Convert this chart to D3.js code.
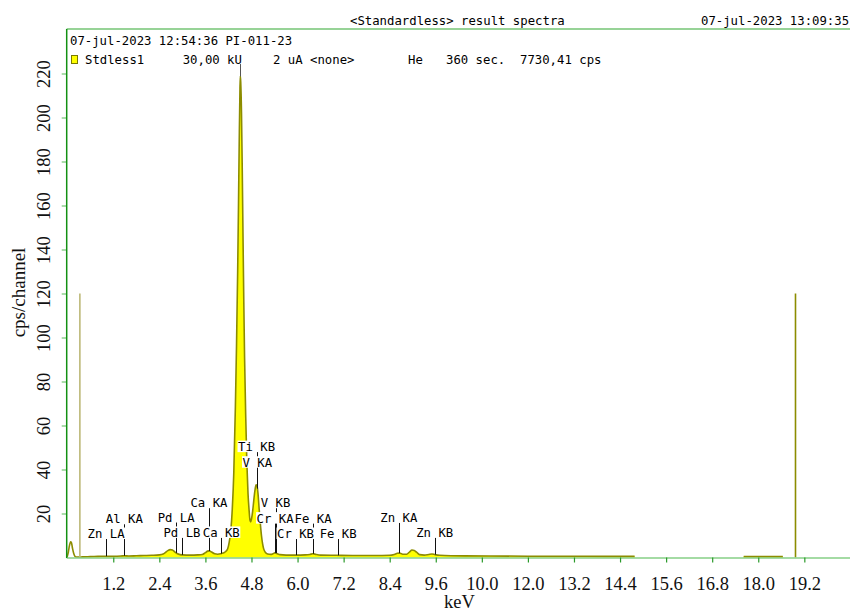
<!DOCTYPE html>
<html>
<head>
<meta charset="utf-8">
<title>Standardless result spectra</title>
<script src="https://cdn.jsdelivr.net/npm/d3@7"></script>
<style>
  html, body { margin: 0; padding: 0; background: #fff; }
  svg { display: block; }
  .mono { font-family: "DejaVu Sans Mono", monospace; font-size: 12.3px; fill: #000; }
  .serif { font-family: "Liberation Serif", "Times New Roman", serif; fill: #111; }
</style>
</head>
<body>
<svg id="chart" width="850" height="613"></svg>
<script>
// ---- spectrum (energy in keV, intensity in cps/channel) ----
const energies = [
  0.00, 0.03, 0.06, 0.09, 0.11, 0.14, 0.17, 0.20, 0.24, 0.30,
  0.40, 0.60, 0.80, 1.00, 1.20, 1.40, 1.49, 1.60, 1.80, 2.00,
  2.20, 2.40, 2.50, 2.56, 2.62, 2.68, 2.74, 2.80, 2.86, 2.94,
  3.00, 3.20, 3.40, 3.52, 3.60, 3.66, 3.70, 3.76, 3.84, 3.92,
  4.00, 4.06, 4.12, 4.18, 4.22, 4.26, 4.30, 4.34, 4.38, 4.41,
  4.44, 4.46, 4.48, 4.50, 4.51, 4.52, 4.54, 4.56, 4.58, 4.60,
  4.62, 4.65, 4.68, 4.71, 4.74, 4.76, 4.78, 4.80, 4.83, 4.86,
  4.89, 4.92, 4.94, 4.97, 5.00, 5.03, 5.06, 5.09, 5.12, 5.16,
  5.22, 5.30, 5.36, 5.41, 5.46, 5.54, 5.70, 5.95, 6.20, 6.32,
  6.40, 6.48, 6.60, 7.00, 7.50, 8.00, 8.40, 8.52, 8.60, 8.66,
  8.74, 8.84, 8.92, 8.98, 9.04, 9.10, 9.18, 9.30, 9.42, 9.50,
  9.58, 9.70, 10.00, 11.00, 12.00, 13.00, 14.00, 14.78, 14.80, 17.60,
  17.62, 18.64, 18.66, 20.40
];
const counts = [
  0.3, 2.5, 5.5, 7.1, 6.8, 4.0, 1.8, 0.6, 0.2, 0.2,
  0.3, 0.4, 0.5, 0.6, 0.6, 0.7, 0.8, 0.7, 0.8, 0.9,
  1.0, 1.2, 1.6, 2.3, 3.1, 3.6, 3.4, 2.6, 1.8, 1.3,
  1.2, 1.1, 1.2, 1.4, 2.2, 2.9, 3.0, 2.5, 1.7, 1.5,
  1.7, 2.0, 2.6, 4.0, 7.0, 12, 22, 39, 68, 96,
  130, 158, 188, 213, 219, 216, 202, 176, 145, 116,
  91, 64, 43, 29, 21, 17, 16.2, 17.5, 21, 26,
  30.5, 33, 32.8, 29, 22, 15.5, 10, 6.2, 3.8, 2.4,
  1.6, 1.4, 1.7, 2.1, 1.8, 1.3, 1.1, 1.1, 1.2, 1.4,
  1.7, 1.4, 1.1, 1.0, 0.9, 0.9, 1.0, 1.4, 1.9, 2.0,
  1.5, 1.5, 2.6, 3.4, 3.2, 2.4, 1.3, 1.1, 1.4, 1.6,
  1.3, 1.0, 0.8, 0.7, 0.6, 0.6, 0.5, 0.5, 0.0, 0.0,
  0.4, 0.4, 0.0, 0.0
];

// ---- region markers (keV, cps) ----
const markerEnergies = [0.33, 18.97];
const markerCounts = [120, 120];

// ---- identified lines: name, energy (keV), label height (cps) ----
const lineNames = ["Zn LA", "Al KA", "Pd LA", "Pd LB", "Ca KA", "Ca KB", "Ti KA", "Ti KB",
                   "V KA", "V KB", "Cr KA", "Cr KB", "Fe KA", "Fe KB", "Zn KA", "Zn KB"];
const lineEnergies = [1.012, 1.487, 2.838, 2.990, 3.692, 4.013, 4.511, 4.932,
                      4.952, 5.427, 5.415, 5.947, 6.404, 7.058, 8.639, 9.572];
const labelLevels = [10.9, 17.6, 18.4, 11.4, 24.9, 11.4, 224.3, 50.4,
                     43.3, 24.9, 17.9, 10.9, 17.9, 10.9, 18.2, 11.4];
const unlabeledLines = ["Ti KA"];

// ---- axes ----
const xTickValues = [1.2, 2.4, 3.6, 4.8, 6.0, 7.2, 8.4, 9.6, 10.8, 12.0, 13.2, 14.4, 15.6, 16.8, 18.0, 19.2];
const xTickLabels = ["1.2", "2.4", "3.6", "4.8", "6.0", "7.2", "8.4", "9.6", "10.0", "12.0", "13.2", "14.4", "15.6", "16.8", "18.0", "19.2"];
const yTickValues = [20, 40, 60, 80, 100, 120, 140, 160, 180, 200, 220];

// ---- header texts ----
const titleText = "<Standardless> result spectra";
const stampText = "07-jul-2023 13:09:35";
const sampleText = "07-jul-2023 12:54:36 PI-011-23";
const legendParts = ["Stdless1", "30,00 kU", "2 uA <none>", "He", "360 sec.", "7730,41 cps"];

// ================= drawing =================
const svg = d3.select("#chart");
const plotLeft = 66.7, plotTop = 29, plotBottom = 557.5, plotRight = 850;

const x = d3.scaleLinear().domain([0, 20.4]).range([67.2, 850.4]);
const y = d3.scaleLinear().domain([0, 240.5]).range([plotBottom, 28.4]);

const spectrum = energies.map((e, i) => ({ e, c: counts[i] }));

svg.append("defs").append("clipPath").attr("id", "plotClip")
  .append("rect").attr("x", plotLeft).attr("y", plotTop)
  .attr("width", plotRight - plotLeft).attr("height", plotBottom - plotTop + 1);

const plot = svg.append("g").attr("clip-path", "url(#plotClip)");

// yellow filled spectrum
const area = d3.area().curve(d3.curveMonotoneX)
  .x(d => x(d.e)).y0(y(0)).y1(d => y(d.c));
plot.append("path")
  .datum(spectrum.filter(d => d.e >= 0.3))
  .attr("d", area)
  .attr("fill", "#ffff00");

// bottom axis
const xAxis = d3.axisBottom(x)
  .tickValues(xTickValues)
  .tickSize(5)
  .tickFormat((d, i) => xTickLabels[i]);
const gx = svg.append("g").attr("transform", `translate(0,${plotBottom})`).call(xAxis);
gx.select(".domain").attr("d", `M${plotLeft},0.5H${plotRight}`).attr("stroke", "#86cf86").attr("stroke-width", 1.5);
gx.selectAll(".tick line").attr("stroke", "#2a9a2a").attr("stroke-width", 1.2);
gx.selectAll(".tick text")
  .attr("class", "serif")
  .attr("y", 32.5).attr("dy", null)
  .style("font-size", "18.5px");

// left axis
const yAxis = d3.axisLeft(y).tickValues(yTickValues).tickSize(5).tickFormat(d3.format("d"));
const gy = svg.append("g").attr("transform", `translate(${plotLeft},0)`).call(yAxis);
gy.select(".domain").remove();
gy.selectAll(".tick line").attr("stroke", "#74c474").attr("stroke-width", 1.2);
gy.selectAll(".tick text")
  .attr("class", "serif")
  .attr("x", null).attr("dy", null)
  .attr("text-anchor", "middle")
  .attr("transform", "translate(-16.5,0) rotate(-90)")
  .style("font-size", "18.5px");

// spectrum outline
const line = d3.line().curve(d3.curveMonotoneX)
  .defined(d => d.c > 0)
  .x(d => x(d.e)).y(d => y(d.c));
plot.append("path")
  .datum(spectrum)
  .attr("d", line)
  .attr("fill", "none")
  .attr("stroke", "#8c8c00")
  .attr("stroke-width", 1.6)
  .attr("stroke-linejoin", "round");

// region markers
const markerColors = ["#bdb978", "#8c8c00"];
markerEnergies.forEach((e, i) => {
  plot.append("line")
    .attr("x1", x(e)).attr("x2", x(e))
    .attr("y1", y(0)).attr("y2", y(markerCounts[i]))
    .attr("stroke", markerColors[i]).attr("stroke-width", 1.6);
});

// spectrum value at a given energy (linear between samples)
const bis = d3.bisector(d => d).left;
function countAt(e) {
  const i = bis(energies, e);
  if (i <= 0) return counts[0];
  if (i >= energies.length) return counts[counts.length - 1];
  const e0 = energies[i - 1], e1 = energies[i];
  const t = (e - e0) / (e1 - e0);
  return counts[i - 1] + t * (counts[i] - counts[i - 1]);
}

// element line markers
const lineData = lineNames.map((n, i) => ({
  name: n, e: lineEnergies[i], level: labelLevels[i], labeled: !unlabeledLines.includes(n)
}));
const marks = svg.append("g");
marks.selectAll("line").data(lineData).join("line")
  .attr("x1", d => Math.round(x(d.e)) + 0.5).attr("x2", d => Math.round(x(d.e)) + 0.5)
  .attr("y1", d => y(countAt(d.e)))
  .attr("y2", d => d.labeled ? y(d.level) + 3 : y(d.level))
  .attr("stroke", d => d.labeled ? "#111" : "#555")
  .attr("stroke-width", 1);

const charW = 7.41;
const labeled = lineData.filter(d => d.labeled);
marks.selectAll("rect.lab").data(labeled).join("rect")
  .attr("class", "lab")
  .attr("x", d => x(d.e) - d.name.length * charW / 2 - 0.5)
  .attr("y", d => y(d.level) - 6)
  .attr("width", d => d.name.length * charW + 1)
  .attr("height", 11.5)
  .attr("fill", "#fff");
marks.selectAll("text").data(labeled).join("text")
  .attr("class", "mono")
  .attr("x", d => x(d.e))
  .attr("y", d => y(d.level) + 4.5)
  .attr("text-anchor", "middle")
  .attr("xml:space", "preserve")
  .text(d => d.name);

// frame
svg.append("line").attr("x1", plotLeft).attr("x2", plotRight).attr("y1", plotTop).attr("y2", plotTop)
  .attr("stroke", "#74c474").attr("stroke-width", 1.5);
svg.append("line").attr("x1", plotLeft).attr("x2", plotLeft).attr("y1", plotTop).attr("y2", plotBottom + 0.5)
  .attr("stroke", "#139013").attr("stroke-width", 1.5);

// header
svg.append("text").attr("class", "mono").attr("x", 350).attr("y", 25).text(titleText);
svg.append("text").attr("class", "mono").attr("x", 701).attr("y", 25).text(stampText);
svg.append("text").attr("class", "mono").attr("x", 70).attr("y", 44.5).text(sampleText);

svg.append("rect").attr("x", 71.5).attr("y", 55.5).attr("width", 6).attr("height", 8)
  .attr("fill", "#ffff00").attr("stroke", "#7a7a00").attr("stroke-width", 1);
const legendX = [85, 182.7, 273, 408, 446, 520];
legendParts.forEach((t, i) => {
  svg.append("text").attr("class", "mono").attr("x", legendX[i]).attr("y", 63.8).text(t);
});

// axis titles
svg.append("text").attr("class", "serif")
  .attr("transform", "translate(25,292.5) rotate(-90)")
  .attr("text-anchor", "middle")
  .style("font-size", "19px")
  .text("cps/channel");
svg.append("text").attr("class", "serif")
  .attr("x", 459.5).attr("y", 608)
  .attr("text-anchor", "middle")
  .style("font-size", "18.5px")
  .text("keV");
</script>
</body>
</html>
